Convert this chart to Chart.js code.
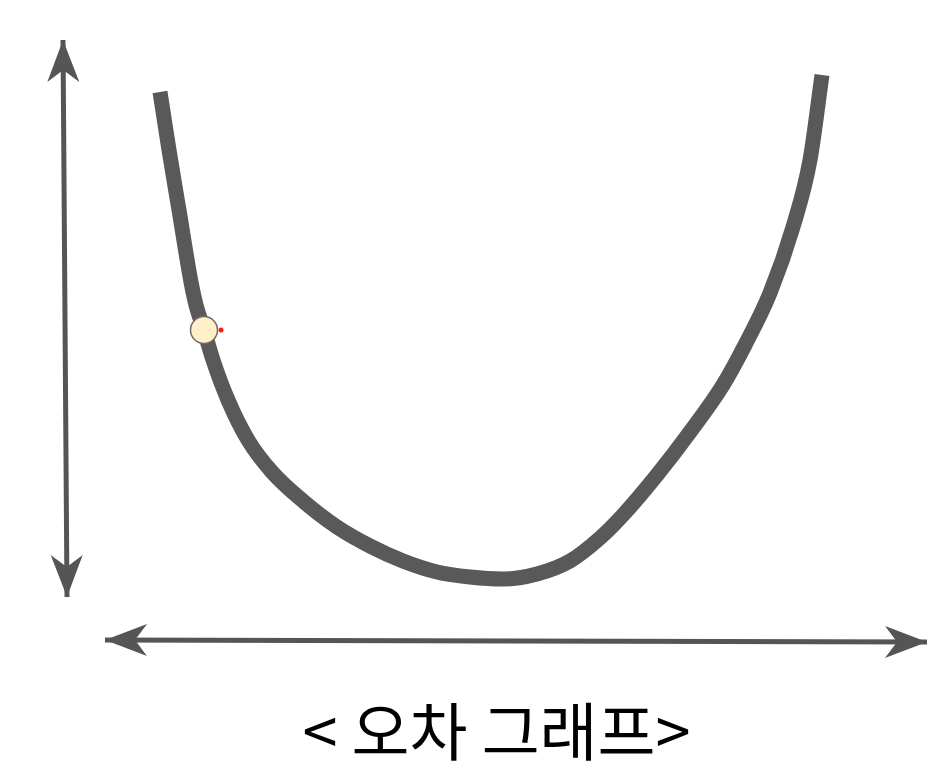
<!DOCTYPE html>
<html>
<head>
<meta charset="utf-8">
<script src="https://cdn.jsdelivr.net/npm/chart.js@4.4.1/dist/chart.umd.min.js"></script>
<style>
    html, body { margin: 0; padding: 0; background: #ffffff; }
    #wrap { width: 951px; height: 773px; }
</style>
</head>
<body>
<div id="wrap"><canvas id="errorChart"></canvas></div>
<script>
// error curve (x = weight, y = error)
const curveX = [160, 169, 179, 191, 196, 204, 213, 228, 248, 272, 303, 337, 370, 403, 437, 470, 503, 537, 570, 600, 623, 657, 690, 723, 745, 770, 793, 810, 822];
const curveY = [606, 548, 488, 416, 393, 368, 338, 298, 258, 226, 197, 171, 152, 137, 126, 121, 119, 124, 137, 160, 183, 223, 266, 313, 353, 405, 471, 538, 623];

// current position on the curve
const markerX = [204];
const markerY = [368];
const dotX = [221];
const dotY = [368];

// axes (double arrows)
const yAxisX = [63, 67];
const yAxisY = [658, 101];
const xAxisX = [105, 927];
const xAxisY = [58, 56];

const titleText = '< 오차 그래프>';

const toPoints = (xs, ys) => xs.map((x, i) => ({x: x, y: ys[i]}));

// draws notched arrow heads on both ends of datasets with arrowEnds
const arrowHeads = {
    id: 'arrowHeads',
    afterDatasetsDraw(chart) {
        const ctx = chart.ctx;
        chart.data.datasets.forEach((ds, i) => {
            if (!ds.arrowEnds) return;
            const pts = chart.getDatasetMeta(i).data;
            const a = pts[0], b = pts[pts.length - 1];
            [[a, b], [b, a]].forEach(([tip, from]) => {
                const ang = Math.atan2(tip.y - from.y, tip.x - from.x);
                ctx.save();
                ctx.translate(tip.x, tip.y);
                ctx.rotate(ang);
                ctx.fillStyle = ds.borderColor;
                ctx.beginPath();
                ctx.moveTo(0, 0);
                ctx.lineTo(-42, -16);
                ctx.lineTo(-30, 0);
                ctx.lineTo(-42, 16);
                ctx.closePath();
                ctx.fill();
                ctx.restore();
            });
        });
    }
};

new Chart(document.getElementById('errorChart'), {
    type: 'scatter',
    data: {
        datasets: [
            {
                data: toPoints(dotX, dotY),
                pointRadius: 2.5,
                backgroundColor: '#ff1a1a',
                borderWidth: 0,
                order: 0
            },
            {
                data: toPoints(markerX, markerY),
                pointRadius: 13.5,
                backgroundColor: '#fff0c9',
                borderColor: '#6f6a5e',
                borderWidth: 1.5,
                order: 1
            },
            {
                data: toPoints(curveX, curveY),
                showLine: true,
                borderColor: '#595959',
                borderWidth: 15,
                borderCapStyle: 'butt',
                cubicInterpolationMode: 'monotone',
                pointRadius: 0,
                order: 2
            },
            {
                data: toPoints(yAxisX, yAxisY),
                showLine: true,
                arrowEnds: true,
                borderColor: '#555555',
                borderWidth: 5,
                pointRadius: 0,
                order: 3
            },
            {
                data: toPoints(xAxisX, xAxisY),
                showLine: true,
                arrowEnds: true,
                borderColor: '#555555',
                borderWidth: 5,
                pointRadius: 0,
                order: 3
            }
        ]
    },
    options: {
        responsive: true,
        maintainAspectRatio: false,
        animation: false,
        layout: {autoPadding: false, padding: {left: 42, right: 0, top: 0, bottom: 0}},
        scales: {
            x: {type: 'linear', min: 42, max: 951, display: false},
            y: {type: 'linear', min: 0, max: 698, display: false}
        },
        plugins: {
            legend: {display: false},
            tooltip: {enabled: false},
            title: {
                display: true,
                text: titleText,
                position: 'bottom',
                color: '#000000',
                padding: {top: 2, bottom: 10},
                font: {family: "'Noto Sans CJK KR', 'Noto Sans', sans-serif", size: 63, weight: 'normal', lineHeight: 1}
            }
        }
    },
    plugins: [arrowHeads]
});
</script>
</body>
</html>
